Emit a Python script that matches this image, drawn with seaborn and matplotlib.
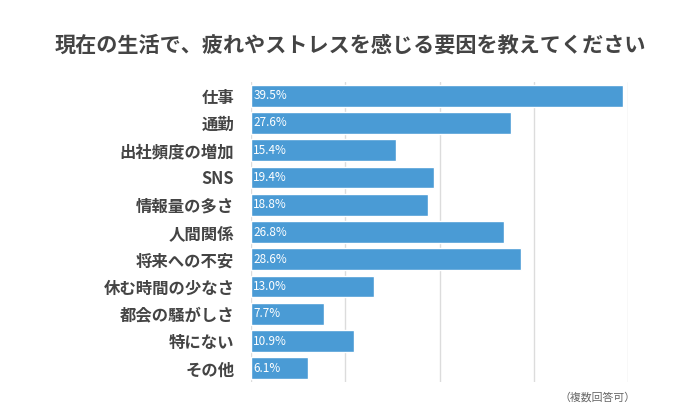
import matplotlib
matplotlib.use("Agg")
import matplotlib.pyplot as plt
import seaborn as sns
import pandas as pd
from matplotlib.patches import FancyBboxPatch

categories = ["仕事", "通勤", "出社頻度の増加", "SNS", "情報量の多さ", "人間関係",
              "将来への不安", "休む時間の少なさ", "都会の騒がしさ", "特にない", "その他"]
values = [39.5, 27.6, 15.4, 19.4, 18.8, 26.8, 28.6, 13.0, 7.7, 10.9, 6.1]
x_ticks = [0, 10, 20, 30, 40]

sns.set_theme(style="white")
plt.rcParams['font.family'] = ['Noto Sans CJK JP', 'DejaVu Sans']

df = pd.DataFrame({"cat": categories, "val": values})

fig = plt.figure(figsize=(7, 4.2), dpi=100)
ax = fig.add_axes([251/700, 1-382/420, (628-251)/700, 300/420])

sns.barplot(data=df, x="val", y="cat", color="#4a9bd5", saturation=1,
            width=0.8, ax=ax, zorder=3)

ax.set_xlim(0, 40)
ax.set_xticks(x_ticks)
ax.xaxis.grid(True, color="#dcdcdc", linewidth=1, zorder=0)
ax.set_xticklabels([])
ax.tick_params(axis="x", length=0)
ax.tick_params(axis="y", length=0, pad=12)
for s in ax.spines.values():
    s.set_visible(False)
ax.set_xlabel("")
ax.set_ylabel("")
for lab in ax.get_yticklabels():
    lab.set_fontsize(11.8)
    lab.set_fontweight("bold")
    lab.set_color("#444444")

for i, v in enumerate(values):
    ax.text(0.25, i, f"{v:.1f}%", color="white", fontsize=8.5,
            va="center", ha="left", zorder=4)

fig.text(0.5, 1-45/420, "現在の生活で、疲れやストレスを感じる要因を教えてください",
         ha="center", va="center", fontsize=15.2, fontweight="bold", color="#444444")
fig.text(636/700, 1-397/420, "（複数回答可）", ha="right", va="center",
         fontsize=7.8, color="#666666")

fig.savefig("out.png", dpi=100, facecolor="white")
